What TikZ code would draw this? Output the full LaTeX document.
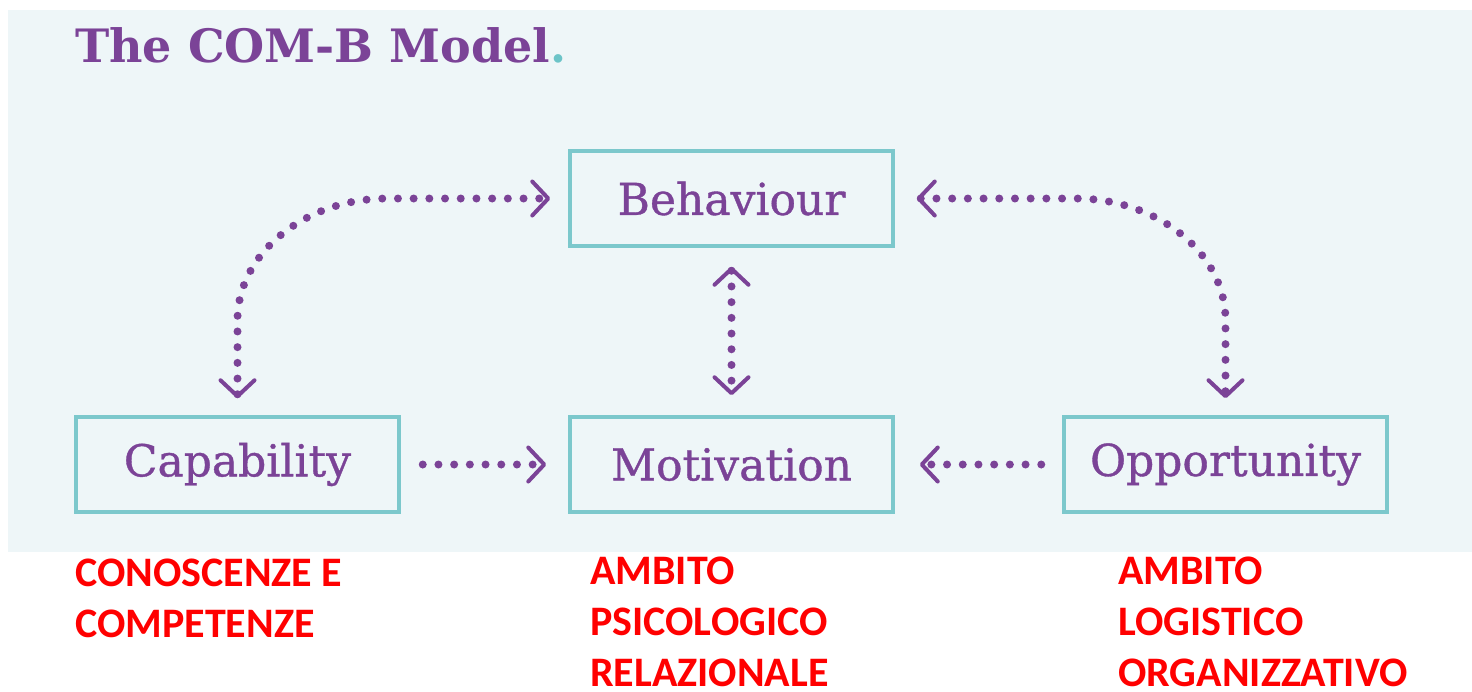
\documentclass[tikz,border=0pt]{standalone}
\usepackage{fontspec}
\setmainfont{DejaVu Serif}
\newfontfamily\boxfont[FakeBold=0.8]{DejaVu Serif}
\newfontfamily\redfont{Carlito}
\usetikzlibrary{arrows.meta,calc}
\definecolor{panel}{HTML}{EEF6F8}
\definecolor{teal}{HTML}{7CC8CC}
\definecolor{purp}{HTML}{7B4397}
\definecolor{dotteal}{HTML}{6CC4C8}
\tikzset{
  box/.style={draw=teal, line width=3.5pt, minimum width=323pt, minimum height=95pt, inner sep=0pt,
    font=\boxfont\fontsize{44}{50}\selectfont, text=purp},
  conn/.style={draw=purp, line width=8pt, line cap=round, dash pattern=on 0pt off 15.7pt},
  tip/.tip={Straight Barb[length=16pt, width=34pt, line width=4pt, round]},
  redlbl/.style={anchor=base west, text=red, font=\redfont\bfseries\fontsize{42}{51}\selectfont, align=left, inner sep=0pt}
}
\begin{document}
\begin{tikzpicture}[x=1pt,y=-1pt]
\useasboundingbox (0,0) rectangle (1472,691);
\fill[white] (0,0) rectangle (1472,691);
\fill[panel] (8,10) rectangle (1472,552);
\node[anchor=base west, inner sep=0pt, text=purp, font=\bfseries\fontsize{46}{50}\selectfont] (title) at (75,62) {The COM-B Model\textcolor{dotteal}{.}};
\node[box] (beh) at (731.5,198.5) {Behaviour};
\node[box] (cap) at (237.5,464.5) {Capability};
\node[box] (mot) at (731.5,464.5) {Motivation};
\node[box] (opp) at (1225.5,464.5) {Opportunity};
% arcs
\draw[conn, {tip}-{tip}] ($(cap.north)+(0,-17)$) -- (237.5,320) .. controls (237.5,253) and (306,198.5) .. (387,198.5) -- ($(beh.west)+(-18,0)$);
\draw[conn, {tip}-{tip}] ($(beh.east)+(22,0)$) -- (1076,198.5) .. controls (1157,198.5) and (1225.5,253) .. (1225.5,320) -- ($(opp.north)+(0,-17)$);
\draw[conn, {tip}-{tip}] ($(beh.south)+(0,19)$) -- ($(mot.north)+(0,-20)$);
\draw[conn, -{tip}] ($(cap.east)+(22,0)$) -- ($(mot.west)+(-22,0)$);
\draw[conn, -{tip}] ($(opp.west)+(-21,0)$) -- ($(mot.east)+(25,0)$);
% red labels (anchor base = last line)
\node[redlbl] (l1) at (75,637) {CONOSCENZE E\\COMPETENZE};
\node[redlbl] (l2) at (590,686) {AMBITO\\PSICOLOGICO\\RELAZIONALE};
\node[redlbl] (l3) at (1118,686) {AMBITO\\LOGISTICO\\ORGANIZZATIVO};
\end{tikzpicture}
\end{document}
